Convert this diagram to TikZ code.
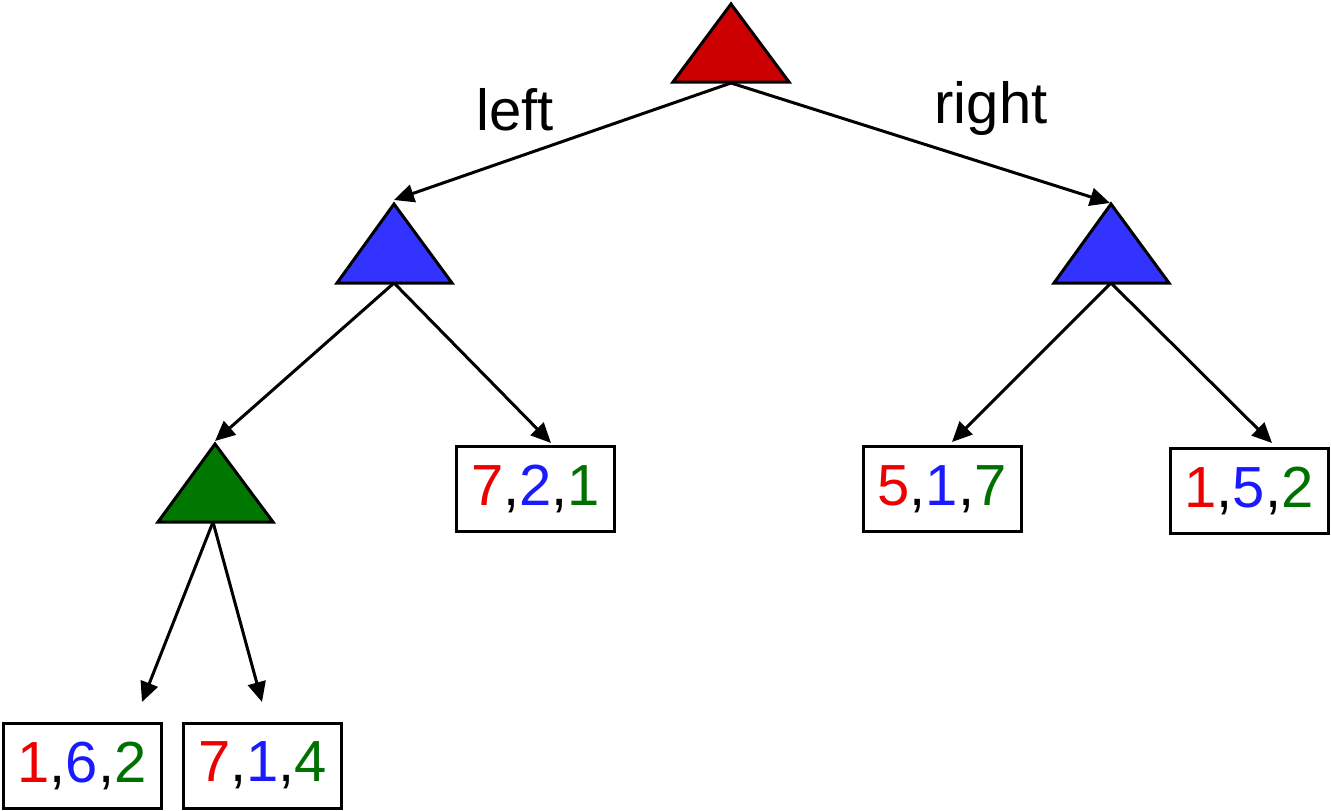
\documentclass[tikz,border=0pt]{standalone}
\usepackage{fontspec}
\setmainfont{Liberation Sans}
\usetikzlibrary{arrows.meta}
\definecolor{tred}{HTML}{CC0000}
\definecolor{tblue}{HTML}{3333FF}
\definecolor{tgreen}{HTML}{007700}
\definecolor{nred}{HTML}{EE0000}
\definecolor{nblue}{HTML}{1A1AFF}
\definecolor{ngreen}{HTML}{007000}
\tikzset{
  tri/.style={draw=black, line width=3pt, line join=miter},
  conn/.style={draw=black, line width=3pt, -{Triangle[length=20pt,width=18pt]}},
  leaf/.style={draw=black, line width=3pt, minimum width=158pt, minimum height=85pt, inner sep=0pt, font=\fontsize{58}{60}\selectfont},
  lbl/.style={anchor=base, inner sep=0pt, font=\fontsize{58}{60}\selectfont}
}
\newcommand{\trio}[3]{\textcolor{nred}{#1},\textcolor{nblue}{#2},\textcolor{ngreen}{#3}}
\begin{document}
\begin{tikzpicture}[x=1pt,y=-1pt]
\useasboundingbox (0,0) rectangle (1331,811);
% triangles
\filldraw[tri, fill=tred] (731,4) -- (789,82) -- (673,82) -- cycle;
\filldraw[tri, fill=tblue] (394,204) -- (452,283) -- (337,283) -- cycle;
\filldraw[tri, fill=tblue] (1111,204) -- (1169,283) -- (1054,283) -- cycle;
\filldraw[tri, fill=tgreen] (215,444) -- (273,522) -- (158,522) -- cycle;
% connector coordinates
\coordinate (rootB) at (731,83);
\coordinate (lTop) at (394,200);
\coordinate (rTop) at (1110,203);
\coordinate (lB) at (394,283);
\coordinate (rB) at (1111,283);
\coordinate (gTop) at (215,441);
\coordinate (gB) at (213,522);
\coordinate (t721) at (551,443);
\coordinate (t517) at (952,442);
\coordinate (t152) at (1272,443);
\coordinate (t162) at (142,702);
\coordinate (t714) at (262,702);
% leaves
\node[leaf] (n721) at (535.5,489) {\trio{7}{2}{1}};
\node[leaf] (n517) at (942,489) {\trio{5}{1}{7}};
\node[leaf] (n152) at (1249,491) {\trio{1}{5}{2}};
\node[leaf] (n162) at (82,765.5) {\trio{1}{6}{2}};
\node[leaf] (n714) at (262.5,765.5) {\trio{7}{1}{4}};
% labels
\node[lbl] (left) at (515,130) {left};
\node[lbl] (right) at (991,123) {right};
% connectors
\draw[conn] (rootB) -- (lTop);
\draw[conn] (rootB) -- (rTop);
\draw[conn] (lB) -- (gTop);
\draw[conn] (lB) -- (t721);
\draw[conn] (rB) -- (t517);
\draw[conn] (rB) -- (t152);
\draw[conn] (gB) -- (t162);
\draw[conn] (gB) -- (t714);
\end{tikzpicture}
\end{document}
